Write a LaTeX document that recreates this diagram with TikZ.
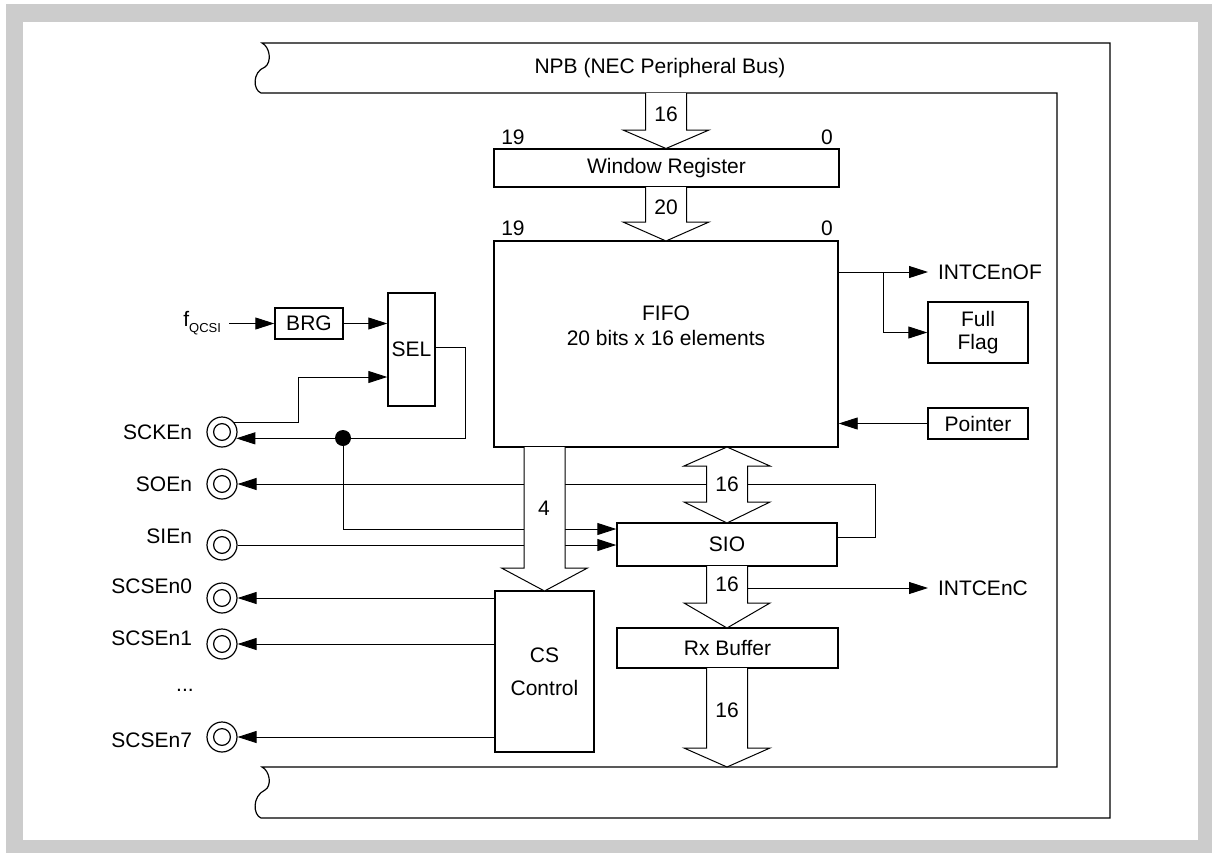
\documentclass[tikz,border=0pt]{standalone}
\usepackage{fontspec}
\setmainfont{Liberation Sans}
\usepackage{xcolor}
\definecolor{framegray}{HTML}{CCCCCC}
\usepackage{tikz}
\usetikzlibrary{positioning, arrows.meta}
\newcommand{\busdown}[4]{%
  \draw[fat] (#1-20.5,#2) -- (#1-20.5,#3) -- (#1-43,#3) -- (#1,#4)
    -- (#1+43,#3) -- (#1+20.5,#3) -- (#1+20.5,#2);}

\begin{document}
\begin{tikzpicture}[
  x=0.5pt, y=-0.5pt,
  font=\fontsize{10.5}{12.5}\selectfont,
  box/.style={draw, line width=0.7pt, inner sep=0pt, align=center},
  pinc/.style={draw, circle, line width=0.6pt, minimum size=15pt, inner sep=0pt,
               path picture={\draw[line width=0.6pt] (path picture bounding box.center) circle (4.2pt);}},
  lbl/.style={inner sep=0pt},
  sig/.style={inner sep=0pt, outer sep=5pt, anchor=west},
  arr/.style={-{Triangle[length=9.5pt, width=6pt]}, line width=0.45pt},
  fat/.style={draw, fill=white, line width=0.5pt, line join=miter},
  dot/.style={circle, fill, inner sep=0pt, minimum size=8pt}
]
\useasboundingbox (0,0) rectangle (1212,853);
\fill[white] (0,0) rectangle (1212,853);
\fill[framegray] (6,4) rectangle (1212,853);
\fill[white] (23,22) rectangle (1198,840);

% peripheral bus
\draw[line width=0.6pt] (262,43) -- (1110,43) -- (1110,818) -- (261,818)
  .. controls (253,815) and (252,796) .. (265,790)
  .. controls (272,786) and (270,771) .. (262,767)
  -- (1057,767) -- (1057,93) -- (261,93)
  .. controls (253,90) and (252,72) .. (265,67)
  .. controls (272,62) and (270,47) .. (262,43) -- cycle;
\node (npb) at (660,68) {NPB (NEC Peripheral Bus)};

% blocks
\node[box, minimum width=172.5pt, minimum height=19pt] (win) at (666.5,168) {Window Register};
\node[box, minimum width=172pt, minimum height=103pt] (fifo) at (666,344) {};
\node[align=center] (fifolbl) at (666,326) {FIFO\\20 bits x 16 elements};
\node[box, minimum width=110pt, minimum height=21.5pt] (sio) at (727,544.5) {SIO};
\node[box, minimum width=110.5pt, minimum height=20pt] (rxbuf) at (727.5,648) {Rx Buffer};
\node[box, minimum width=49.5pt, minimum height=80.5pt] (cs) at (544.5,671.5) {CS\\[4pt]Control};
\node[box, minimum width=34pt, minimum height=15.5pt] (brg) at (309,323.5) {BRG};
\node[box, minimum width=23.5pt, minimum height=56.5pt] (sel) at (411.5,349.5) {SEL};
\node[box, minimum width=50pt, minimum height=30.5pt] (full) at (978,332.5) {Full\\[-1pt]Flag};
\node[box, minimum width=50pt, minimum height=15.5pt] (ptr) at (978,423.5) {Pointer};

\node (b19a) at (513,137) {19};
\node (b0a) at (827,137) {0};
\node (b19b) at (513,228) {19};
\node (b0b) at (827,228) {0};

% pins
\node[pinc] (pSCK) at (222,432) {};
\node[pinc] (pSO) at (222,484) {};
\node[pinc] (pSI) at (222,545) {};
\node[pinc] (pCS0) at (222,598) {};
\node[pinc] (pCS1) at (222,644) {};
\node[pinc] (pCS7) at (222,737) {};
\node[lbl, left=7pt of pSCK] (lSCK) {SCKEn};
\node[lbl, left=7pt of pSO] (lSO) {SOEn};
\node[lbl, left=7pt of pSI, yshift=4.5pt] (lSI) {SIEn};
\node[lbl, left=7pt of pCS0, yshift=6pt] (lCS0) {SCSEn0};
\node[lbl, left=7pt of pCS1, yshift=3pt] (lCS1) {SCSEn1};
\node[lbl, left=7pt of pCS7, yshift=-1.5pt] (lCS7) {SCSEn7};
\node (dots) at (185,690) {...};

\node[lbl, outer sep=4pt, anchor=east] (fq) at (229,323) {f\raisebox{-0.6ex}{\fontsize{6.5}{7}\selectfont QCSI}};
\node[sig] (intof) at (928,272) {INTCEnOF};
\node[sig] (intc) at (928,588) {INTCEnC};

% connectors
\draw[arr] (fq.east |- brg.west) -- (brg.west);
\draw[arr] (brg.east) -- (sel.west |- brg.east);
\draw[arr] (pSCK.37) -- ++(64,0) |- (sel.west |- 0,377);
\draw[arr] (sel.east |- 0,347) -- (465,347) |- (pSCK.-24);
\node[dot] (jn) at (343,438) {};
\draw[arr] (jn.center) |- (sio.west |- 0,529);
\draw[arr] (pSI) -- (sio.west |- pSI);
\draw[arr] (sio.east |- 0,537) -- (875,537) |- (pSO);
\draw[arr] (cs.west |- pCS0) -- (pCS0);
\draw[arr] (cs.west |- pCS1) -- (pCS1);
\draw[arr] (cs.west |- pCS7) -- (pCS7);
\draw[arr] (fifo.east |- 0,272) -- (intof.west);
\coordinate (ofb) at (883,272);
\draw[arr] (ofb) |- (full.west);
\draw[arr] (ptr.west) -- (fifo.east |- ptr.west);
\coordinate (cb) at (747,588);
\draw[arr] (cb) -- (intc.west);

% wide data paths
\busdown{666}{93}{130}{148.5}
\busdown{666}{187}{222}{241}
\busdown{544.5}{447}{568}{591}
\busdown{727}{566}{603}{628}
\busdown{727}{668}{748}{767}
\draw[fat] (727,447) -- (770,466) -- (747.5,466) -- (747.5,502) -- (770,502) -- (727,523)
  -- (684,502) -- (706.5,502) -- (706.5,466) -- (684,466) -- cycle;
\node (w16a) at (666,114) {16};
\node (w20) at (666,207) {20};
\node (w4) at (544,508) {4};
\node (w16b) at (727,484) {16};
\node (w16c) at (727,584) {16};
\node (w16d) at (727,710) {16};
\end{tikzpicture}
\end{document}
